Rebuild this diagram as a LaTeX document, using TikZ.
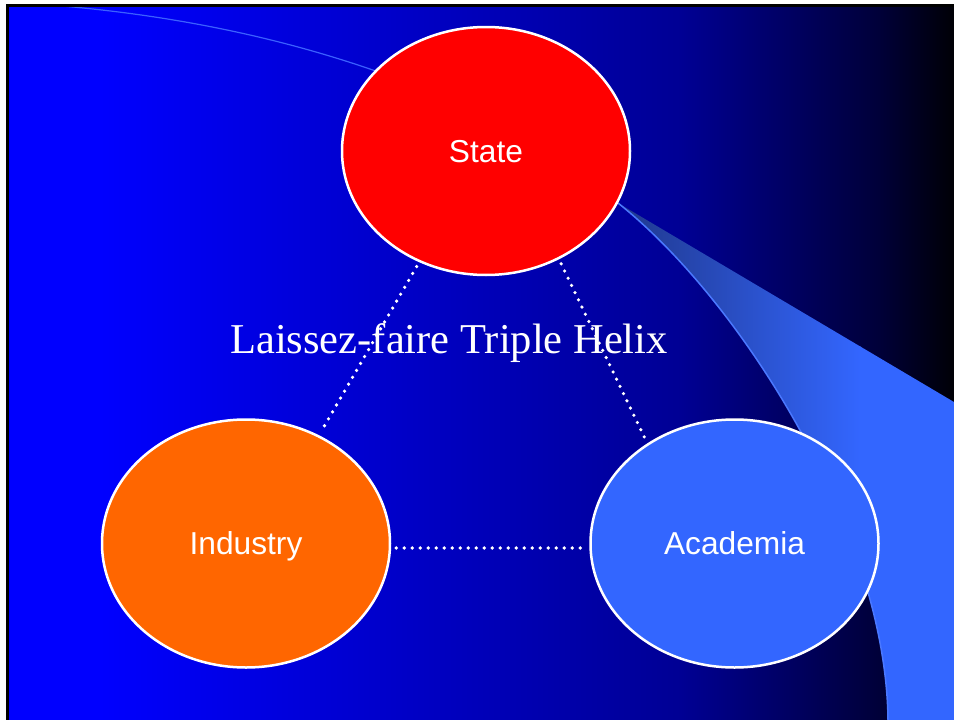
\documentclass[tikz,border=0pt]{standalone}
\usepackage{fontspec}
\setmainfont{Liberation Serif}
\newfontfamily\labelfont{Liberation Sans}
\usetikzlibrary{shapes.geometric}

\definecolor{stateRed}{RGB}{255,0,0}
\definecolor{industryOrange}{RGB}{255,102,0}
\definecolor{academiaBlue}{RGB}{51,102,255}
\definecolor{bgBlue}{RGB}{0,0,255}
\definecolor{bgMid}{RGB}{0,0,148}
\definecolor{bgDark}{RGB}{0,0,56}
\definecolor{bgEnd}{RGB}{0,0,6}
\definecolor{swooshDark}{RGB}{32,56,140}
\definecolor{arcLine}{RGB}{74,120,255}

\begin{document}
\begin{tikzpicture}[x=1pt,y=-1pt,
    helix/.style={ellipse,draw=white,line width=2.5pt,minimum width=288pt,minimum height=248pt,
      inner sep=0pt,text=white,text depth=0pt,font=\labelfont\fontsize{31.7}{38}\selectfont},
    tie/.style={white,line width=3.6pt,line cap=round,dash pattern=on 0pt off 8pt,
      shorten <=5pt,shorten >=5pt},
    headline/.style={text=white,inner sep=0pt,anchor=base,font=\fontsize{42.5}{50}\selectfont}]
  \useasboundingbox (0,0) rectangle (954,720);
  \clip (0,0) rectangle (954,720);
  \fill[white] (0,0) rectangle (954,720);

  % slide background, blue to black
  \fill[bgBlue] (7,5) rectangle (101,720);
  \shade[left color=bgBlue,right color=bgMid] (100,5) rectangle (681,720);
  \shade[left color=bgMid,right color=bgDark] (680,5) rectangle (881,720);
  \shade[left color=bgDark,right color=bgEnd] (880,5) rectangle (954,720);

  % swoosh on the right
  \begin{scope}
    \clip (618,203) -- (954,402) -- (954,720) -- (888,720)
      .. controls (886,530) and (740,300) .. (618,203) -- cycle;
    \shade[left color=swooshDark,right color=academiaBlue] (618,195) rectangle (861,720);
    \fill[academiaBlue] (860,195) rectangle (954,720);
  \end{scope}
  \draw[arcLine,line width=1.5pt] (618,203) .. controls (740,300) and (886,530) .. (888,720);
  \draw[arcLine!80!bgBlue,line width=1.2pt] (62,6) .. controls (200,18) and (330,48) .. (450,100);

  % the three helices
  \node[helix,fill=stateRed] (state) at (486,151) {State};
  \node[helix,fill=industryOrange] (industry) at (246,543.5) {Industry};
  \node[helix,fill=academiaBlue] (academia) at (734.5,543.5) {Academia};

  \node[headline] (caption) at (449,353) {Laissez-faire Triple Helix};

  \draw[tie] (state.-56) -- (academia.131);
  \draw[tie] (state.-121) -- (industry.56);
  \draw[tie] ([yshift=-4.5pt]industry.east) -- ([yshift=-4.5pt]academia.west);

  % slide frame
  \draw[black,line width=3pt] (7.5,5.5) rectangle (980,740);
\end{tikzpicture}
\end{document}
